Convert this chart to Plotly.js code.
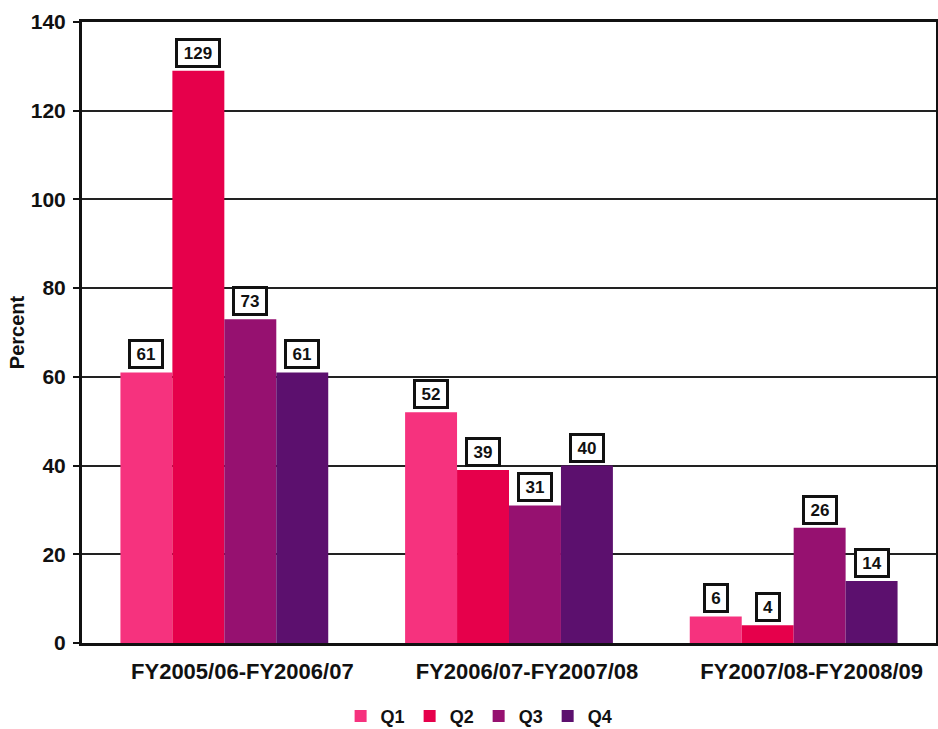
<!DOCTYPE html>
<html>
<head>
<meta charset="utf-8">
<script src="https://cdn.plot.ly/plotly-3.0.1.min.js"></script>
<style>html,body{margin:0;padding:0;background:#fff;}#chart{width:938px;height:729px;}</style>
</head>
<body>
<div id="chart"></div>
<script>
const categories = ["FY2005/06-FY2006/07", "FY2006/07-FY2007/08", "FY2007/08-FY2008/09"];
const seriesNames = ["Q1", "Q2", "Q3", "Q4"];
const q1 = [61, 52, 6];
const q2 = [129, 39, 4];
const q3 = [73, 31, 26];
const q4 = [61, 40, 14];
const colors = ["#f6327e", "#e6004b", "#961170", "#5c106e"];
const yTicks = [0, 20, 40, 60, 80, 100, 120, 140];

const series = [q1, q2, q3, q4];
const bargap = 0.27;
const nSeries = series.length;
const barW = (1 - bargap) / nSeries;
const FONT = "Liberation Sans, Arial, sans-serif";

const traces = series.map((vals, i) => ({
  type: "bar",
  name: seriesNames[i],
  x: categories,
  y: vals,
  marker: {color: colors[i]},
  hoverinfo: "x+y"
}));

const annotations = [];
series.forEach((vals, i) => {
  const off = -(1 - bargap) / 2 + barW * (i + 0.5);
  vals.forEach((v, c) => {
    const s = String(v);
    annotations.push({
      x: c + off, y: v, xref: "x", yref: "y",
      text: s, showarrow: false,
      yanchor: "bottom", yshift: 3,
      width: s.length * 10 + 8, height: 22,
      font: {family: FONT, size: 17, color: "#111", weight: "bold"},
      bgcolor: "#fff", bordercolor: "#111", borderwidth: 3, borderpad: 1
    });
  });
});

const layout = {
  width: 938, height: 729,
  margin: {l: 82, r: 2, t: 22, b: 86, autoexpand: false},
  paper_bgcolor: "#fff", plot_bgcolor: "#fff",
  barmode: "group", bargap: bargap, bargroupgap: 0,
  font: {family: FONT, color: "#111", size: 16},
  xaxis: {
    type: "category",
    showline: true, linecolor: "#111", linewidth: 3, mirror: true,
    ticks: "", showgrid: false,
    tickfont: {size: 22, weight: "bold", color: "#111"},
    ticklabelstandoff: 7, ticklabelshift: 18,
    range: [-0.5, 2.5]
  },
  yaxis: {
    range: [0, 140], tickvals: yTicks, ticktext: yTicks.map(String),
    showline: true, linecolor: "#111", linewidth: 3, mirror: true,
    ticks: "outside", ticklen: 6, tickwidth: 2, tickcolor: "#111",
    showgrid: true, gridcolor: "#222", gridwidth: 2,
    zeroline: false,
    tickfont: {size: 21, weight: "bold", color: "#111"},
    ticklabelstandoff: 3,
    title: {text: "Percent", font: {size: 20, weight: "bold", color: "#111"}, standoff: 1}
  },
  legend: {
    orientation: "h", x: 0.465, xanchor: "center", y: -0.118, yanchor: "middle",
    font: {size: 18, weight: "bold", color: "#111"},
    itemwidth: 30, traceorder: "normal", tracegroupgap: 0
  },
  annotations: annotations
};

Plotly.newPlot("chart", traces, layout, {displayModeBar: false, responsive: false});
</script>
</body>
</html>
